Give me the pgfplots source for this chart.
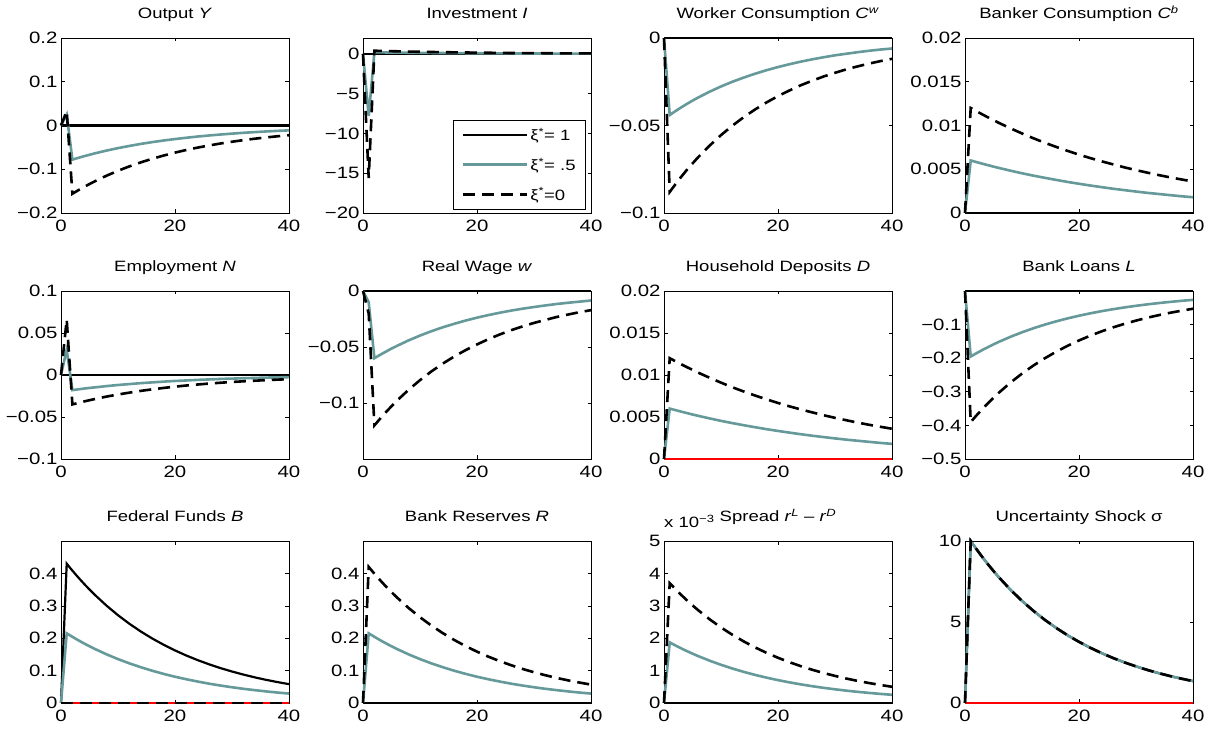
\documentclass[border=0pt]{standalone}
\usepackage{fontspec}
\setmainfont{Liberation Sans}[FakeStretch=1.24]
\usepackage{pgfplots}
\usepackage{pgfplotstable}
\pgfplotsset{compat=1.18}

\definecolor{midgray}{RGB}{102,153,153}
\newcommand\tickfont{\fontsize{16.5}{19}\selectfont}
\newcommand\titlefont{\fontsize{15}{18}\selectfont}

\pgfplotsset{
  irf/.style={
    scale only axis, width=228bp, anchor=south west,
    xmin=0, xmax=40, xtick={0,20,40}, xticklabels={0,20,40},
    tick align=inside, tick pos=both, scaled ticks=false,
    major tick length=3.5bp,
    every tick/.style={black, line width=0.6bp},
    axis line style={line width=0.8bp},
    tick label style={font=\tickfont},
    xticklabel style={yshift=-3.5bp},
    title style={font=\titlefont, anchor=base, at={(0.5,1)}, yshift=13.5bp},
    clip=false,
  },
  zero/.style={red, line width=1.8bp, forget plot},
  s1/.style={black, line width=2.2bp},
  s2/.style={midgray, line width=2.6bp},
  s3/.style={black, line width=2.6bp, dash pattern=on 12bp off 7bp},
}

% output Y
\pgfplotstableread{
t b c
0 0 0
1 0.025 0.033
2 -0.0780 -0.1560
3 -0.0741 -0.1482
4 -0.0704 -0.1408
5 -0.0669 -0.1338
6 -0.0635 -0.1271
8 -0.0573 -0.1147
10 -0.0517 -0.1035
12 -0.0467 -0.0934
14 -0.0421 -0.0843
16 -0.0380 -0.0761
18 -0.0343 -0.0687
20 -0.0310 -0.0620
22 -0.0280 -0.0559
24 -0.0252 -0.0505
26 -0.0228 -0.0456
28 -0.0206 -0.0411
30 -0.0186 -0.0371
32 -0.0167 -0.0335
34 -0.0151 -0.0302
36 -0.0136 -0.0273
38 -0.0123 -0.0246
40 -0.0111 -0.0222
}\tY

% investment I
\pgfplotstableread{
t b c
0 0 0
1 -7.8 -15.6
2 0.200 0.400
3 0.190 0.380
4 0.181 0.361
5 0.171 0.343
6 0.163 0.326
8 0.147 0.294
10 0.133 0.265
12 0.120 0.239
14 0.108 0.216
16 0.098 0.195
18 0.088 0.176
20 0.079 0.159
22 0.072 0.143
24 0.065 0.129
26 0.058 0.117
28 0.053 0.105
30 0.048 0.095
32 0.043 0.086
34 0.039 0.077
36 0.035 0.070
38 0.032 0.063
40 0.028 0.057
}\tI

% worker consumption
\pgfplotstableread{
t b c
0 0 0
1 -0.0440 -0.0880
2 -0.0418 -0.0836
3 -0.0397 -0.0794
4 -0.0377 -0.0754
5 -0.0358 -0.0717
6 -0.0340 -0.0681
8 -0.0307 -0.0615
10 -0.0277 -0.0555
12 -0.0250 -0.0501
14 -0.0226 -0.0452
16 -0.0204 -0.0408
18 -0.0184 -0.0368
20 -0.0166 -0.0332
22 -0.0150 -0.0300
24 -0.0135 -0.0270
26 -0.0122 -0.0244
28 -0.0110 -0.0220
30 -0.0099 -0.0199
32 -0.0090 -0.0179
34 -0.0081 -0.0162
36 -0.0073 -0.0146
38 -0.0066 -0.0132
40 -0.0060 -0.0119
}\tCw

% banker consumption / household deposits
\pgfplotstableread{
t b c
0 0 0
1 0.00600 0.01200
2 0.00582 0.01164
3 0.00564 0.01128
4 0.00547 0.01094
5 0.00530 0.01061
6 0.00514 0.01028
8 0.00483 0.00967
10 0.00454 0.00909
12 0.00427 0.00854
14 0.00402 0.00803
16 0.00378 0.00755
18 0.00355 0.00710
20 0.00334 0.00667
22 0.00314 0.00627
24 0.00295 0.00590
26 0.00277 0.00555
28 0.00261 0.00521
30 0.00245 0.00490
32 0.00230 0.00461
34 0.00217 0.00433
36 0.00204 0.00407
38 0.00191 0.00383
40 0.00180 0.00360
}\tCb

% employment
\pgfplotstableread{
t b c
0 0 0
1 0.030 0.066
2 -0.0180 -0.0350
3 -0.0171 -0.0333
4 -0.0162 -0.0316
5 -0.0154 -0.0300
6 -0.0147 -0.0285
8 -0.0132 -0.0257
10 -0.0119 -0.0232
12 -0.0108 -0.0210
14 -0.0097 -0.0189
16 -0.0088 -0.0171
18 -0.0079 -0.0154
20 -0.0071 -0.0139
22 -0.0065 -0.0125
24 -0.0058 -0.0113
26 -0.0053 -0.0102
28 -0.0047 -0.0092
30 -0.0043 -0.0083
32 -0.0039 -0.0075
34 -0.0035 -0.0068
36 -0.0031 -0.0061
38 -0.0028 -0.0055
40 -0.0026 -0.0050
}\tN

% real wage
\pgfplotstableread{
t b c
0 0 0
1 -0.010 -0.020
2 -0.0600 -0.1200
3 -0.0570 -0.1140
4 -0.0542 -0.1083
5 -0.0514 -0.1029
6 -0.0489 -0.0977
8 -0.0441 -0.0882
10 -0.0398 -0.0796
12 -0.0359 -0.0718
14 -0.0324 -0.0648
16 -0.0293 -0.0585
18 -0.0264 -0.0528
20 -0.0238 -0.0477
22 -0.0215 -0.0430
24 -0.0194 -0.0388
26 -0.0175 -0.0350
28 -0.0158 -0.0316
30 -0.0143 -0.0285
32 -0.0129 -0.0258
34 -0.0116 -0.0232
36 -0.0105 -0.0210
38 -0.0095 -0.0189
40 -0.0085 -0.0171
}\tw

% bank loans
\pgfplotstableread{
t b c
0 0 0
1 -0.1950 -0.3900
2 -0.1853 -0.3705
3 -0.1760 -0.3520
4 -0.1672 -0.3344
5 -0.1588 -0.3177
6 -0.1509 -0.3018
8 -0.1362 -0.2723
10 -0.1229 -0.2458
12 -0.1109 -0.2218
14 -0.1001 -0.2002
16 -0.0903 -0.1807
18 -0.0815 -0.1631
20 -0.0736 -0.1472
22 -0.0664 -0.1328
24 -0.0599 -0.1199
26 -0.0541 -0.1082
28 -0.0488 -0.0976
30 -0.0441 -0.0881
32 -0.0398 -0.0795
34 -0.0359 -0.0718
36 -0.0324 -0.0648
38 -0.0292 -0.0585
40 -0.0264 -0.0528
}\tL

% federal funds
\pgfplotstableread{
t a b
0 0 0
1 0.4300 0.2150
2 0.4085 0.2043
3 0.3881 0.1940
4 0.3687 0.1843
5 0.3502 0.1751
6 0.3327 0.1664
8 0.3003 0.1501
10 0.2710 0.1355
12 0.2446 0.1223
14 0.2207 0.1104
16 0.1992 0.0996
18 0.1798 0.0899
20 0.1623 0.0811
22 0.1464 0.0732
24 0.1322 0.0661
26 0.1193 0.0596
28 0.1076 0.0538
30 0.0972 0.0486
32 0.0877 0.0438
34 0.0791 0.0396
36 0.0714 0.0357
38 0.0645 0.0322
40 0.0582 0.0291
}\tB

% bank reserves
\pgfplotstableread{
t b c
0 0 0
1 0.2150 0.4200
2 0.2043 0.3990
3 0.1940 0.3791
4 0.1843 0.3601
5 0.1751 0.3421
6 0.1664 0.3250
8 0.1501 0.2933
10 0.1355 0.2647
12 0.1223 0.2389
14 0.1104 0.2156
16 0.0996 0.1946
18 0.0899 0.1756
20 0.0811 0.1585
22 0.0732 0.1430
24 0.0661 0.1291
26 0.0596 0.1165
28 0.0538 0.1051
30 0.0486 0.0949
32 0.0438 0.0856
34 0.0396 0.0773
36 0.0357 0.0698
38 0.0322 0.0630
40 0.0291 0.0568
}\tR

% spread, x 1e-3
\pgfplotstableread{
t b c
0 0 0
1 1.870 3.700
2 1.777 3.515
3 1.688 3.339
4 1.603 3.172
5 1.523 3.014
6 1.447 2.863
8 1.306 2.584
10 1.179 2.332
12 1.064 2.105
14 0.960 1.899
16 0.866 1.714
18 0.782 1.547
20 0.706 1.396
22 0.637 1.260
24 0.575 1.137
26 0.519 1.026
28 0.468 0.926
30 0.423 0.836
32 0.381 0.754
34 0.344 0.681
36 0.311 0.615
38 0.280 0.555
40 0.253 0.501
}\tS

% uncertainty shock
\pgfplotstableread{
t s
0 0
1 10
2 9.500
3 9.025
4 8.574
5 8.145
6 7.738
8 6.983
10 6.302
12 5.688
14 5.133
16 4.633
18 4.181
20 3.774
22 3.406
24 3.074
26 2.774
28 2.503
30 2.259
32 2.039
34 1.840
36 1.661
38 1.499
40 1.353
}\tsig

\begin{document}
\begin{tikzpicture}
\useasboundingbox (0,0) rectangle (1214bp,736bp);

%% row 1
\begin{axis}[irf, at={(61bp,523bp)}, height=175bp, title={Output \textit{Y}},
  ymin=-0.2, ymax=0.2, ytick={-0.2,-0.1,0,0.1,0.2}, yticklabels={−0.2,−0.1,0,0.1,0.2}]
\addplot[zero] coordinates {(0,0) (40,0)};
\addplot[s1] coordinates {(0,0) (40,0)};
\addplot[s2] table[x=t,y=b] {\tY};
\addplot[s3] table[x=t,y=c] {\tY};
\end{axis}

\begin{axis}[irf, at={(363bp,523bp)}, height=175bp, title={Investment \textit{I}},
  ymin=-20, ymax=2, ytick={-20,-15,-10,-5,0}, yticklabels={−20,−15,−10,−5,0},
  legend style={at={(0.978,0.017)}, anchor=south east, draw=black, line width=0.8bp,
    font=\fontsize{15}{18}\selectfont, row sep=12bp, inner xsep=8bp, inner ysep=6bp},
  legend cell align=left,
  legend image code/.code={\draw[#1] (0bp,0bp) -- (64bp,0bp);}]
\addplot[zero] coordinates {(0,0) (40,0)};
\addplot[s1] coordinates {(0,0) (40,0)};
\addplot[s2] table[x=t,y=b] {\tI};
\addplot[s3] table[x=t,y=c] {\tI};
\legend{ξ\textsuperscript{*}= 1, ξ\textsuperscript{*}= .5, ξ\textsuperscript{*}=0}
\end{axis}

\begin{axis}[irf, at={(664bp,523bp)}, height=175bp, title={Worker Consumption \textit{C}\textsuperscript{\textit{w}}},
  ymin=-0.1, ymax=0, ytick={-0.1,-0.05,0}, yticklabels={−0.1,−0.05,0}]
\addplot[zero] coordinates {(0,0) (40,0)};
\addplot[s1] coordinates {(0,0) (40,0)};
\addplot[s2] table[x=t,y=b] {\tCw};
\addplot[s3] table[x=t,y=c] {\tCw};
\end{axis}

\begin{axis}[irf, at={(965bp,523bp)}, height=175bp, title={Banker Consumption \textit{C}\textsuperscript{\textit{b}}},
  ymin=0, ymax=0.02, ytick={0,0.005,0.01,0.015,0.02}, yticklabels={0,0.005,0.01,0.015,0.02}]
\addplot[zero] coordinates {(0,0) (40,0)};
\addplot[s1] coordinates {(0,0) (40,0)};
\addplot[s2] table[x=t,y=b] {\tCb};
\addplot[s3] table[x=t,y=c] {\tCb};
\end{axis}

%% row 2
\begin{axis}[irf, at={(61bp,277bp)}, height=168bp, title={Employment \textit{N}},
  ymin=-0.1, ymax=0.1, ytick={-0.1,-0.05,0,0.05,0.1}, yticklabels={−0.1,−0.05,0,0.05,0.1}]
\addplot[zero] coordinates {(0,0) (40,0)};
\addplot[s1] coordinates {(0,0) (40,0)};
\addplot[s2] table[x=t,y=b] {\tN};
\addplot[s3] table[x=t,y=c] {\tN};
\end{axis}

\begin{axis}[irf, at={(363bp,277bp)}, height=168bp, title={Real Wage \textit{w}},
  ymin=-0.15, ymax=0, ytick={-0.1,-0.05,0}, yticklabels={−0.1,−0.05,0}]
\addplot[zero] coordinates {(0,0) (40,0)};
\addplot[s1] coordinates {(0,0) (40,0)};
\addplot[s2] table[x=t,y=b] {\tw};
\addplot[s3] table[x=t,y=c] {\tw};
\end{axis}

\begin{axis}[irf, at={(664bp,277bp)}, height=168bp, title={Household Deposits \textit{D}},
  ymin=0, ymax=0.02, ytick={0,0.005,0.01,0.015,0.02}, yticklabels={0,0.005,0.01,0.015,0.02}]
\addplot[s1] coordinates {(0,0) (40,0)};
\addplot[zero] coordinates {(0,0) (40,0)};
\addplot[s2] table[x=t,y=b] {\tCb};
\addplot[s3] table[x=t,y=c] {\tCb};
\end{axis}

\begin{axis}[irf, at={(965bp,277bp)}, height=168bp, title={Bank Loans \textit{L}},
  ymin=-0.5, ymax=0, ytick={-0.5,-0.4,-0.3,-0.2,-0.1}, yticklabels={−0.5,−0.4,−0.3,−0.2,−0.1}]
\addplot[zero] coordinates {(0,0) (40,0)};
\addplot[s1] coordinates {(0,0) (40,0)};
\addplot[s2] table[x=t,y=b] {\tL};
\addplot[s3] table[x=t,y=c] {\tL};
\end{axis}

%% row 3
\begin{axis}[irf, at={(61bp,33bp)}, height=162bp, title={Federal Funds \textit{B}},
  ymin=0, ymax=0.5, ytick={0,0.1,0.2,0.3,0.4}, yticklabels={0,0.1,0.2,0.3,0.4}]
\addplot[zero] coordinates {(0,0) (40,0)};
\addplot[s1] table[x=t,y=a] {\tB};
\addplot[s2] table[x=t,y=b] {\tB};
\addplot[s3] coordinates {(0,0) (40,0)};
\end{axis}

\begin{axis}[irf, at={(363bp,33bp)}, height=162bp, title={Bank Reserves \textit{R}},
  ymin=0, ymax=0.5, ytick={0,0.1,0.2,0.3,0.4}, yticklabels={0,0.1,0.2,0.3,0.4}]
\addplot[zero] coordinates {(0,0) (40,0)};
\addplot[s1] coordinates {(0,0) (40,0)};
\addplot[s2] table[x=t,y=b] {\tR};
\addplot[s3] table[x=t,y=c] {\tR};
\end{axis}

\begin{axis}[irf, at={(664bp,33bp)}, height=162bp, title={Spread \textit{r}\textsuperscript{\textit{L}} – \textit{r}\textsuperscript{\textit{D}}},
  ymin=0, ymax=5, ytick={0,1,2,3,4,5}, yticklabels={0,1,2,3,4,5}]
\addplot[zero] coordinates {(0,0) (40,0)};
\addplot[s1] coordinates {(0,0) (40,0)};
\addplot[s2] table[x=t,y=b] {\tS};
\addplot[s3] table[x=t,y=c] {\tS};
\node[anchor=base west, font=\titlefont, inner sep=0pt, yshift=13.5bp] at (rel axis cs:0,1) {x 10\textsuperscript{−3}};
\end{axis}

\begin{axis}[irf, at={(965bp,33bp)}, height=162bp, title={Uncertainty Shock σ},
  ymin=0, ymax=10, ytick={0,5,10}, yticklabels={0,5,10}]
\addplot[zero] coordinates {(0,0) (40,0)};
\addplot[s1] table[x=t,y=s] {\tsig};
\addplot[s2] table[x=t,y=s] {\tsig};
\addplot[s3] table[x=t,y=s] {\tsig};
\end{axis}

\end{tikzpicture}
\end{document}
